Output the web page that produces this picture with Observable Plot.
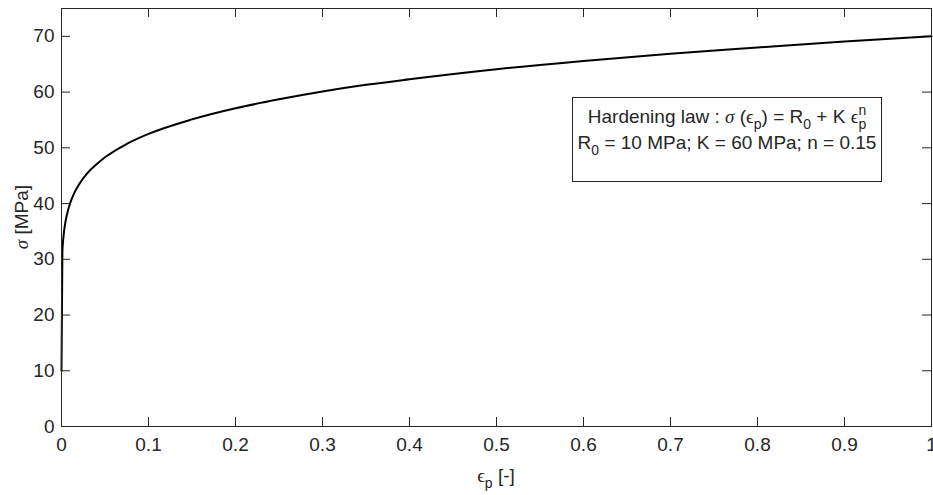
<!DOCTYPE html>
<html>
<head>
<meta charset="utf-8">
<script src="https://cdn.jsdelivr.net/npm/d3@7"></script>
<script src="https://cdn.jsdelivr.net/npm/@observablehq/plot@0.6"></script>
<style>
  html, body { margin: 0; padding: 0; background: #fff; }
  #chart { width: 933px; height: 495px; }
</style>
</head>
<body>
<div id="chart"></div>
<script>
// Plastic strain
const strain = [0, 0.001, 0.002, 0.003, 0.005, 0.0075, 0.01, 0.015, 0.02, 0.03, 0.04, 0.05, 0.075, 0.1, 0.15, 0.2, 0.25, 0.3, 0.35, 0.4, 0.5, 0.6, 0.7, 0.8, 0.9, 1.0];
// Stress in MPa
const stress = [10, 31.3, 33.6, 35.1, 37.1, 38.8, 40.1, 42.0, 43.4, 45.5, 47.0, 48.3, 50.7, 52.5, 55.1, 57.1, 58.7, 60.1, 61.3, 62.3, 64.1, 65.6, 66.9, 68.0, 69.1, 70.0];

const xTicks = [0, 0.1, 0.2, 0.3, 0.4, 0.5, 0.6, 0.7, 0.8, 0.9, 1];
const xTickLabels = ["0", "0.1", "0.2", "0.3", "0.4", "0.5", "0.6", "0.7", "0.8", "0.9", "1"];
const yTicks = [0, 10, 20, 30, 40, 50, 60, 70];
const yTickLabels = ["0", "10", "20", "30", "40", "50", "60", "70"];

const data = strain.map((e, i) => ({eps: e, sigma: stress[i]}));

const W = 933, H = 495;
const mL = 61, mR = 2, mT = 8, mB = 69;
const pw = W - mL - mR, ph = H - mT - mB;
const tick = 9;
const ink = "#262626";
const FS = 19, SUB = 14;

const chart = Plot.plot({
  width: W, height: H,
  marginLeft: mL, marginRight: mR, marginTop: mT, marginBottom: mB,
  x: {domain: [0, 1]},
  y: {domain: [0, 75]},
  style: {fontFamily: "'Liberation Sans', Arial, sans-serif", fontSize: FS + "px", color: ink, background: "#fff"},
  marks: [
    Plot.tickX(xTicks, {x: d => d, stroke: ink, insetTop: ph - tick}),
    Plot.tickX(xTicks, {x: d => d, stroke: ink, insetBottom: ph - tick}),
    Plot.tickY(yTicks, {y: d => d, stroke: ink, insetRight: pw - tick}),
    Plot.tickY(yTicks, {y: d => d, stroke: ink, insetLeft: pw - tick}),
    Plot.axisX(xTicks, {anchor: "bottom", tickSize: 0, tickPadding: 11, tickFormat: (d, i) => xTickLabels[i], label: null, fill: ink, fontSize: FS}),
    Plot.axisY(yTicks, {anchor: "left", tickSize: 0, tickPadding: 7, tickFormat: (d, i) => yTickLabels[i], label: null, fill: ink, fontSize: FS}),
    Plot.line(data, {x: "eps", y: "sigma", stroke: "#000", strokeWidth: 2, curve: "monotone-x"}),
    Plot.frame({stroke: ink, strokeWidth: 1})
  ]
});
document.getElementById("chart").appendChild(chart);

const svg = d3.select(chart);
const sans = "'Liberation Sans', Arial, sans-serif";
const greek = "'Liberation Serif', 'DejaVu Serif', serif";

// x-axis title
const xl = svg.append("text").attr("x", mL + pw / 2).attr("y", 482)
  .attr("text-anchor", "middle").attr("fill", ink)
  .style("font-family", sans).style("font-size", FS + "px");
xl.append("tspan").style("font-family", greek).text("ϵ");
xl.append("tspan").attr("dy", 6).style("font-size", SUB + "px").text("p");
xl.append("tspan").attr("dy", -6).text(" [-]");

// y-axis title
const yl = svg.append("text").attr("transform", `translate(28,${mT + ph / 2}) rotate(-90)`)
  .attr("text-anchor", "middle").attr("fill", ink)
  .style("font-family", sans).style("font-size", FS + "px");
yl.append("tspan").style("font-family", greek).style("font-style", "italic").text("σ");
yl.append("tspan").text(" [MPa]");

// annotation box
const bx = 572.5, by = 97.5, bw = 309, bh = 84;
svg.append("rect").attr("x", bx).attr("y", by).attr("width", bw).attr("height", bh)
  .attr("fill", "#fff").attr("stroke", ink).attr("stroke-width", 1);
const cx = bx + bw / 2;
const t1 = svg.append("text").attr("x", cx).attr("y", 123).attr("text-anchor", "middle").attr("fill", ink)
  .style("font-family", sans).style("font-size", FS + "px");
t1.append("tspan").text("Hardening law : ");
t1.append("tspan").style("font-family", greek).style("font-style", "italic").text("σ");
t1.append("tspan").text(" (");
t1.append("tspan").style("font-family", greek).text("ϵ");
t1.append("tspan").attr("dy", 6).style("font-size", SUB + "px").text("p");
t1.append("tspan").attr("dy", -6).text(") = R");
t1.append("tspan").attr("dy", 6).style("font-size", SUB + "px").text("0");
t1.append("tspan").attr("dy", -6).text(" + K ");
t1.append("tspan").style("font-family", greek).text("ϵ");
t1.append("tspan").attr("dy", -8).style("font-size", SUB + "px").text("n");
t1.append("tspan").attr("dy", 14).attr("dx", -7.8).style("font-size", SUB + "px").text("p");

const t2 = svg.append("text").attr("x", cx).attr("y", 149).attr("text-anchor", "middle").attr("fill", ink)
  .style("font-family", sans).style("font-size", FS + "px");
t2.append("tspan").text("R");
t2.append("tspan").attr("dy", 6).style("font-size", SUB + "px").text("0");
t2.append("tspan").attr("dy", -6).text(" = 10 MPa; K = 60 MPa; n = 0.15");
</script>
</body>
</html>
